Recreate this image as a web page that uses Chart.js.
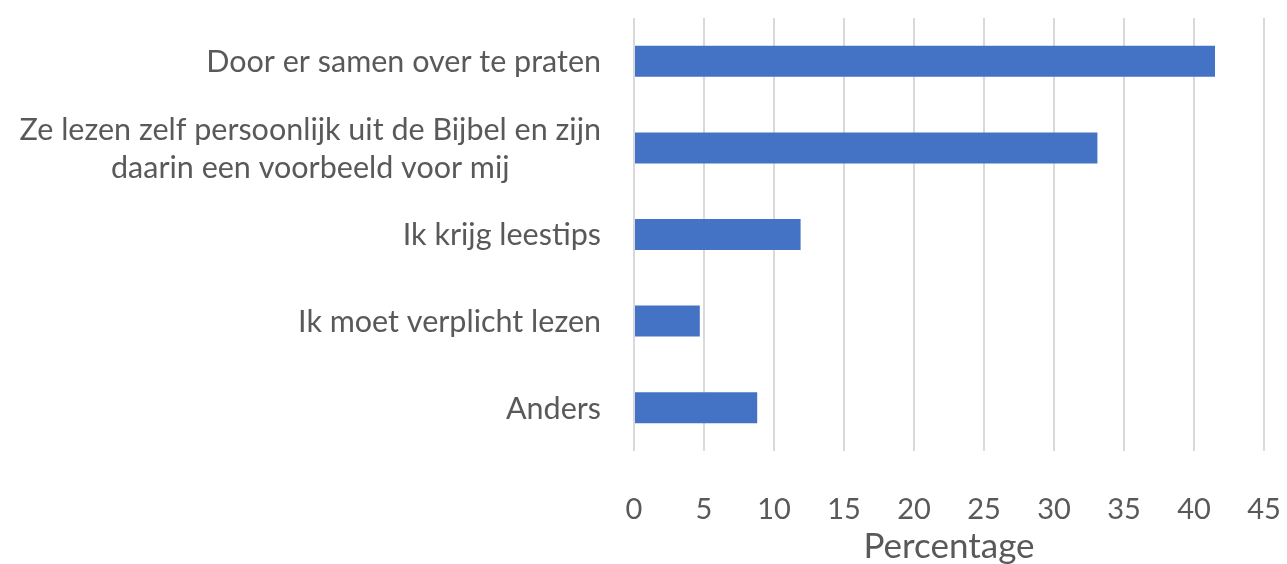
<!DOCTYPE html>
<html>
<head>
<meta charset="utf-8">
<script src="https://cdn.jsdelivr.net/npm/chart.js@4.4.1/dist/chart.umd.min.js"></script>
<style>
  html, body { margin: 0; padding: 0; background: #ffffff; }
  #wrap { width: 1287px; height: 564px; position: relative; }
</style>
</head>
<body>
<div id="wrap"><canvas id="c" width="1287" height="564"></canvas></div>
<script>
const categories = [
  'Door er samen over te praten',
  ['Ze lezen zelf persoonlijk uit de Bijbel en zijn', 'daarin een voorbeeld voor mij'],
  'Ik krijg leestips',
  'Ik moet verplicht lezen',
  'Anders'
];
const percentages = [41.5, 33.1, 11.9, 4.7, 8.8];
const xTicks = [0, 5, 10, 15, 20, 25, 30, 35, 40, 45];
const xTitle = 'Percentage';

const TEXT = '#595959';
const FONT = 'Lato';

const yLabelPlugin = {
  id: 'yLabels',
  afterDraw(chart) {
    const ys = chart.scales.y;
    const ctx = chart.ctx;
    ctx.save();
    ctx.font = '30.5px ' + FONT;
    ctx.fillStyle = TEXT;
    ctx.textAlign = 'center';
    ctx.textBaseline = 'middle';
    const rightEdge = ys.right - 33;
    const lh = 38;
    categories.forEach((lab, i) => {
      const lines = Array.isArray(lab) ? lab : [lab];
      const widest = Math.max(...lines.map(l => ctx.measureText(l).width));
      const cx = rightEdge - widest / 2;
      const py = ys.getPixelForValue(i);
      lines.forEach((l, j) => {
        ctx.fillText(l, cx, py + (j - (lines.length - 1) / 2) * lh + 1);
      });
    });
    ctx.restore();
  }
};

new Chart(document.getElementById('c'), {
  type: 'bar',
  data: {
    labels: categories,
    datasets: [{
      data: percentages,
      backgroundColor: '#4472C4',
      borderWidth: 0,
      categoryPercentage: 1.0,
      barPercentage: 0.358
    }]
  },
  options: {
    indexAxis: 'y',
    responsive: false,
    animation: false,
    layout: { padding: { top: 18, right: 23, left: 0, bottom: 0 } },
    plugins: { legend: { display: false }, tooltip: { enabled: false } },
    scales: {
      x: {
        min: 0,
        max: 45,
        afterBuildTicks(scale) { scale.ticks = xTicks.map(v => ({ value: v })); },
        afterFit(scale) {
          scale.height = 113;
          scale.paddingRight = 0;
          scale.paddingLeft = 0;
        },
        grid: { color: '#d9d9d9', lineWidth: 2, drawTicks: false },
        border: { display: false },
        ticks: {
          color: TEXT,
          font: { family: FONT, size: 29 },
          padding: 41,
          maxRotation: 0
        },
        title: {
          display: true,
          text: xTitle,
          color: TEXT,
          font: { family: FONT, size: 35 },
          padding: { top: 0, bottom: -4 }
        }
      },
      y: {
        afterFit(scale) { scale.width = 634; },
        grid: { display: false },
        border: { display: false },
        ticks: { display: false }
      }
    }
  },
  plugins: [yLabelPlugin]
});
</script>
</body>
</html>
